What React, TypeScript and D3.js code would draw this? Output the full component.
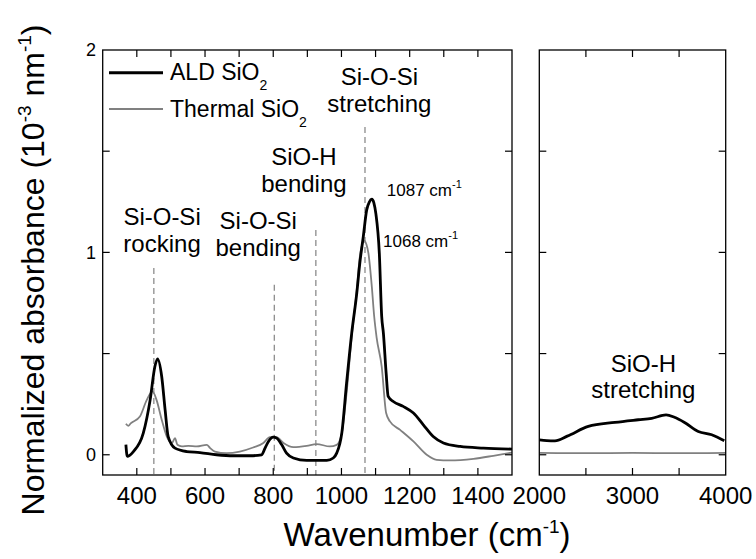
import React from "react";
import * as d3 from "d3";

// ---------- data ----------
const aldLeftWn = [368, 372, 390, 419, 439, 453, 461, 473, 483, 492, 512, 546, 585, 634, 683, 732, 766, 776, 786, 800, 810, 825, 839, 859, 898, 957, 976, 986, 1001, 1015, 1030, 1045, 1054, 1064, 1074, 1082, 1089, 1095, 1101, 1111, 1118, 1123, 1131, 1137, 1152, 1181, 1211, 1240, 1269, 1299, 1348, 1416, 1500];
const aldLeftAbs = [0.05, -0.008, 0.016, 0.107, 0.27, 0.436, 0.474, 0.387, 0.222, 0.09, 0.033, 0.016, 0.011, 0.0, -0.005, -0.005, 0.0, 0.033, 0.066, 0.087, 0.082, 0.049, 0.008, -0.016, -0.028, -0.028, -0.016, 0.008, 0.107, 0.354, 0.6, 0.8, 0.95, 1.078, 1.21, 1.25, 1.263, 1.245, 1.19, 0.996, 0.683, 0.6, 0.403, 0.288, 0.263, 0.239, 0.206, 0.148, 0.09, 0.058, 0.041, 0.033, 0.028];

const thermalLeftWn = [368, 375, 382, 409, 429, 446, 458, 473, 488, 503, 512, 519, 532, 551, 576, 605, 615, 629, 663, 702, 741, 771, 790, 810, 830, 859, 898, 927, 966, 986, 1001, 1015, 1030, 1045, 1054, 1062, 1067, 1073, 1079, 1089, 1096, 1103, 1118, 1131, 1142, 1172, 1211, 1250, 1279, 1318, 1387, 1445, 1500];
const thermalLeftAbs = [0.153, 0.143, 0.155, 0.189, 0.27, 0.313, 0.27, 0.173, 0.09, 0.058, 0.082, 0.049, 0.041, 0.044, 0.041, 0.049, 0.033, 0.016, 0.008, 0.016, 0.036, 0.058, 0.087, 0.087, 0.058, 0.038, 0.044, 0.053, 0.041, 0.049, 0.107, 0.305, 0.584, 0.815, 0.98, 1.045, 1.058, 1.04, 0.996, 0.831, 0.683, 0.58, 0.436, 0.206, 0.165, 0.123, 0.066, 0.0, -0.025, -0.028, -0.02, -0.005, 0.011];

const aldRightWn = [2000, 2080, 2168, 2300, 2526, 2812, 3062, 3206, 3360, 3450, 3563, 3706, 3850, 3985];
const aldRightAbs = [0.074, 0.07, 0.069, 0.092, 0.14, 0.16, 0.173, 0.18, 0.197, 0.185, 0.158, 0.115, 0.099, 0.069];

const thermalRightWn = [2000, 2500, 3000, 3500, 4000];
const thermalRightAbs = [0.009, 0.008, 0.009, 0.008, 0.009];

const markerWn = [450, 803, 925, 1069];
const markerTop = [0.923, 0.84, 1.11, 1.62];

const xLeftTicks = [400, 500, 600, 700, 800, 900, 1000, 1100, 1200, 1300, 1400];
const xLeftLabels = [400, 600, 800, 1000, 1200, 1400];
const xRightTicks = [2500, 3000, 3500];
const xRightLabels = [2000, 3000, 4000];
const yTicks = [0, 0.5, 1, 1.5];
const yLabels = [0, 1, 2];

// annotations in data coordinates
const bandLabelsLines = [
  ["Si-O-Si", "stretching"],
  ["SiO-H", "bending"],
  ["Si-O-Si", "rocking"],
  ["Si-O-Si", "bending"],
];
const bandLabelWn = [1111, 890, 474, 756];
const bandLabelAbs = [1.827, 1.432, 1.136, 1.115];

const peakLabelText = ["1087", "1068"];
const peakLabelWn = [1133, 1122];
const peakLabelAbs = [1.279, 1.029];

const legendNames = ["ALD SiO", "Thermal SiO"];

const FONT = "'Liberation Sans', Arial, Helvetica, sans-serif";

export default function App() {
  const W = 756, H = 559;
  const xL = d3.scaleLinear().domain([300, 1500]).range([102.7, 512]);
  const xR = d3.scaleLinear().domain([2000, 4000]).range([539.3, 725.7]);
  const y = d3.scaleLinear().domain([-0.1, 2]).range([475, 50]);
  const top = y(2), bottom = y(-0.1);
  const mkLine = (xs: any) => d3.line<[number, number]>().x(d => xs(d[0])).y(d => y(d[1])).curve(d3.curveMonotoneX);
  const zip = (a: number[], b: number[]) => a.map((v, i) => [v, b[i]] as [number, number]);

  const tickLen = 7;
  const black = "#000";
  const gray = "#808080";

  const panel = (xs: any, xt: number[], id: string) => {
    const [x0, x1] = xs.range();
    return (
      <g key={id}>
        <rect x={x0} y={top} width={x1 - x0} height={bottom - top} fill="none" stroke={black} strokeWidth={1.3} />
        {xt.map(t => (
          <g key={"xt" + t}>
            <line x1={xs(t)} x2={xs(t)} y1={bottom} y2={bottom - tickLen} stroke={black} strokeWidth={1.2} />
            <line x1={xs(t)} x2={xs(t)} y1={top} y2={top + tickLen} stroke={black} strokeWidth={1.2} />
          </g>
        ))}
        {yTicks.map(t => (
          <g key={"yt" + t}>
            <line x1={x0} x2={x0 + tickLen} y1={y(t)} y2={y(t)} stroke={black} strokeWidth={1.2} />
            <line x1={x1} x2={x1 - tickLen} y1={y(t)} y2={y(t)} stroke={black} strokeWidth={1.2} />
          </g>
        ))}
      </g>
    );
  };

  return (
    <svg width={W} height={H} style={{ position: "absolute", left: 0, top: 0, background: "#fff" }} fontFamily={FONT}>
      <rect x={0} y={0} width={W} height={H} fill="#fff" />
      {/* dashed markers */}
      {markerWn.map((m, i) => (
        <line key={"m" + i} x1={xL(m)} x2={xL(m)} y1={y(markerTop[i])} y2={bottom} stroke="#777" strokeWidth={1.1} strokeDasharray="6,4" />
      ))}
      {/* curves */}
      <path d={mkLine(xL)(zip(thermalLeftWn, thermalLeftAbs)) || ""} fill="none" stroke={gray} strokeWidth={1.8} />
      <path d={mkLine(xL)(zip(aldLeftWn, aldLeftAbs)) || ""} fill="none" stroke={black} strokeWidth={2.8} strokeLinejoin="round" />
      <path d={mkLine(xR)(zip(thermalRightWn, thermalRightAbs)) || ""} fill="none" stroke={gray} strokeWidth={1.8} />
      <path d={mkLine(xR)(zip(aldRightWn, aldRightAbs)) || ""} fill="none" stroke={black} strokeWidth={2.8} strokeLinejoin="round" />

      {panel(xL, xLeftTicks, "L")}
      {panel(xR, xRightTicks, "R")}

      {/* tick labels */}
      {xLeftLabels.map(t => (
        <text key={"xl" + t} x={xL(t)} y={504} textAnchor="middle" fontSize={24}>{t}</text>
      ))}
      {xRightLabels.map(t => (
        <text key={"xr" + t} x={xR(t)} y={504} textAnchor="middle" fontSize={24}>{t}</text>
      ))}
      {yLabels.map(t => (
        <text key={"yl" + t} x={96} y={y(t)} dy="0.35em" textAnchor="end" fontSize={18}>{t}</text>
      ))}

      {/* axis titles */}
      <text x={427} y={546} textAnchor="middle" fontSize={33}>
        Wavenumber (cm<tspan fontSize={19} dy={-13}>-1</tspan><tspan dy={13}>)</tspan>
      </text>
      <text transform="translate(44,270) rotate(-90)" textAnchor="middle" fontSize={32}>
        Normalized absorbance (10<tspan fontSize={19} dy={-13}>-3</tspan><tspan dy={13}> nm</tspan><tspan fontSize={19} dy={-13}>-1</tspan><tspan dy={13}>)</tspan>
      </text>

      {/* legend */}
      <line x1={109} x2={163} y1={72.7} y2={72.7} stroke={black} strokeWidth={3} />
      <line x1={109} x2={163} y1={109} y2={109} stroke={gray} strokeWidth={1.8} />
      {legendNames.map((n, i) => (
        <text key={"lg" + i} x={170} y={i === 0 ? 80 : 116.5} fontSize={23}>
          {n}<tspan fontSize={14} dy={10}>2</tspan>
        </text>
      ))}

      {/* band annotations */}
      {bandLabelsLines.map((lines, i) => (
        <text key={"bl" + i} x={xL(bandLabelWn[i])} y={y(bandLabelAbs[i])} textAnchor="middle" fontSize={24}>
          <tspan x={xL(bandLabelWn[i])}>{lines[0]}</tspan>
          <tspan x={xL(bandLabelWn[i])} dy={27}>{lines[1]}</tspan>
        </text>
      ))}
      {peakLabelText.map((t, i) => (
        <text key={"pk" + i} x={xL(peakLabelWn[i])} y={y(peakLabelAbs[i])} fontSize={17}>
          {t} cm<tspan fontSize={11} dy={-8}>-1</tspan>
        </text>
      ))}
      <text x={xR(3117)} y={y(0.41)} textAnchor="middle" fontSize={24}>
        <tspan x={xR(3117)}>SiO-H</tspan>
        <tspan x={xR(3117)} dy={26}>stretching</tspan>
      </text>
    </svg>
  );
}
